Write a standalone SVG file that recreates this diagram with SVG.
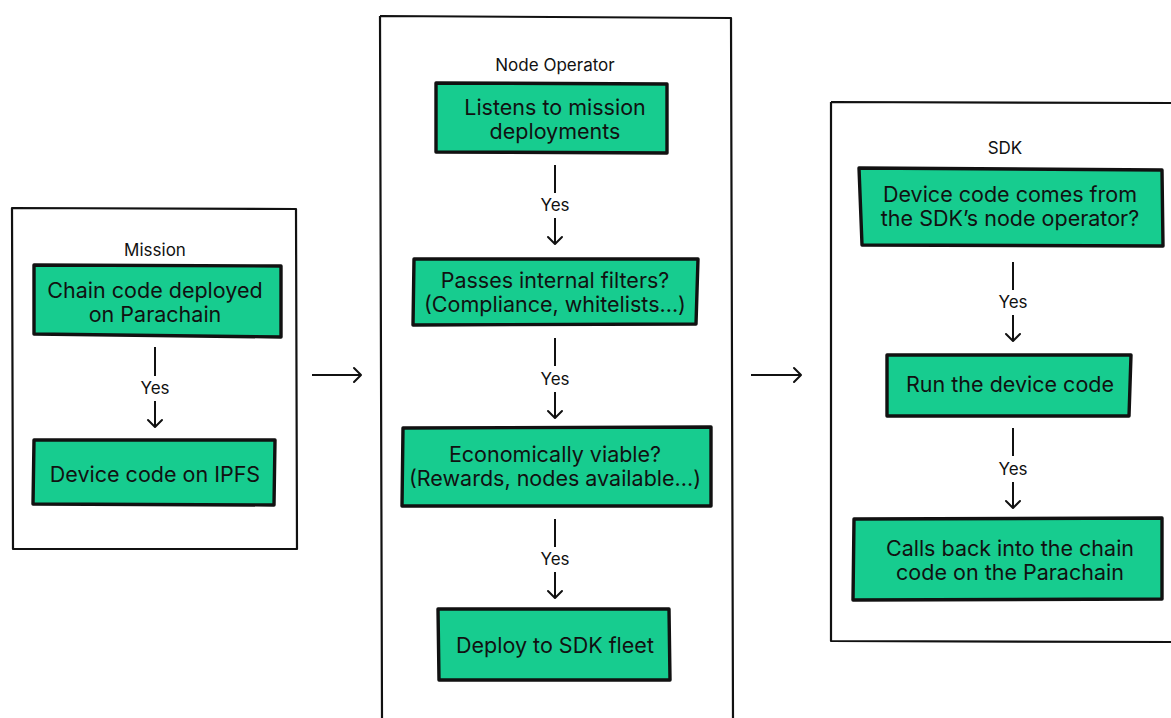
<svg xmlns="http://www.w3.org/2000/svg" width="1171" height="718" viewBox="0 0 1171 718">
<style>
.box{fill:#ffffff;stroke:#111;stroke-width:2.2;stroke-linejoin:round}
.node{fill:#17cc8f;stroke:#111;stroke-width:3.4;stroke-linejoin:round}
.t{font-family:Inter,"Liberation Sans",sans-serif;font-size:21.5px;fill:#111;text-anchor:middle}
.title{font-family:Inter,"Liberation Sans",sans-serif;font-size:17px;fill:#111;text-anchor:middle}
.yes{font-family:Inter,"Liberation Sans",sans-serif;font-size:17px;fill:#111;text-anchor:middle}
.ln{stroke:#111;stroke-width:2;fill:none}
.ah{stroke:#111;stroke-width:2;fill:none;stroke-linecap:round;stroke-linejoin:round}
</style>
<rect width="1171" height="718" fill="#ffffff"/>

<g id="mission">
  <path class="box" d="M12,208 L296,209 L297,549 L13,549 Z"/>
  <text class="title" x="155" y="256">Mission</text>
</g>
<g id="node-operator">
  <path class="box" d="M380,16 L731,18 L733,718 M382,718 L380,16"/>
  <text class="title" x="555" y="71">Node Operator</text>
</g>
<g id="sdk">
  <path class="box" d="M831,102 L1171,103 M1171,642 L831,641 L831,102"/>
  <text class="title" x="1005" y="154">SDK</text>
</g>

<g id="n1">
  <path class="node" d="M34,265 L281,266 L281,337 L34,334 Z"/>
  <text class="t" x="155" y="298">Chain code deployed</text>
  <text class="t" x="155" y="322">on Parachain</text>
</g>
<g id="n2">
  <path class="node" d="M34,440 L275,440 L274,505 L33,504 Z"/>
  <text class="t" x="155" y="482">Device code on IPFS</text>
</g>
<g id="n3">
  <path class="node" d="M436,83 L667,84 L667,153 L436,152 Z"/>
  <text class="t" x="555" y="115">Listens to mission</text>
  <text class="t" x="555" y="139">deployments</text>
</g>
<g id="n4">
  <path class="node" d="M414,259 L698,259 L696,324 L413,325 Z"/>
  <text class="t" x="555" y="288">Passes internal filters?</text>
  <text class="t" x="555" y="312">(Compliance, whitelists...)</text>
</g>
<g id="n5">
  <path class="node" d="M403,428 L711,427 L711,506 L402,506 Z"/>
  <text class="t" x="555" y="462">Economically viable?</text>
  <text class="t" x="555" y="486">(Rewards, nodes available...)</text>
</g>
<g id="n6">
  <path class="node" d="M438,609 L669,609 L670,680 L439,680 Z"/>
  <text class="t" x="555" y="653">Deploy to SDK fleet</text>
</g>
<g id="n7">
  <path class="node" d="M859,168 L1162,170 L1163,246 L862,245 Z"/>
  <text class="t" x="1010" y="202">Device code comes from</text>
  <text class="t" x="1010" y="226">the SDK’s node operator?</text>
</g>
<g id="n8">
  <path class="node" d="M887,355 L1131,355 L1129,416 L887,416 Z"/>
  <text class="t" x="1010" y="392">Run the device code</text>
</g>
<g id="n9">
  <path class="node" d="M854,519 L1162,518 L1162,599 L853,600 Z"/>
  <text class="t" x="1010" y="556">Calls back into the chain</text>
  <text class="t" x="1010" y="580">code on the Parachain</text>
</g>

<g id="connectors">
  <line class="ln" x1="155" y1="347" x2="155" y2="376"/>
  <text class="yes" x="155" y="394">Yes</text>
  <line class="ln" x1="155" y1="401" x2="155" y2="427"/>
  <path class="ah" d="M148,420 L155,427 L162,420"/>

  <line class="ln" x1="555" y1="165" x2="555" y2="193"/>
  <text class="yes" x="555" y="211">Yes</text>
  <line class="ln" x1="555" y1="218" x2="555" y2="244"/>
  <path class="ah" d="M548,237 L555,244 L562,237"/>

  <line class="ln" x1="555" y1="338" x2="555" y2="366"/>
  <text class="yes" x="555" y="385">Yes</text>
  <line class="ln" x1="555" y1="392" x2="555" y2="418"/>
  <path class="ah" d="M548,411 L555,418 L562,411"/>

  <line class="ln" x1="555" y1="519" x2="555" y2="547"/>
  <text class="yes" x="555" y="565">Yes</text>
  <line class="ln" x1="555" y1="572" x2="555" y2="598"/>
  <path class="ah" d="M548,591 L555,598 L562,591"/>

  <line class="ln" x1="1013" y1="262" x2="1013" y2="290"/>
  <text class="yes" x="1013" y="308">Yes</text>
  <line class="ln" x1="1013" y1="315" x2="1013" y2="341"/>
  <path class="ah" d="M1006,334 L1013,341 L1020,334"/>

  <line class="ln" x1="1013" y1="428" x2="1013" y2="456"/>
  <text class="yes" x="1013" y="475">Yes</text>
  <line class="ln" x1="1013" y1="482" x2="1013" y2="508"/>
  <path class="ah" d="M1006,501 L1013,508 L1020,501"/>

  <line class="ln" x1="312" y1="375" x2="361" y2="375"/>
  <path class="ah" d="M354,368 L361,375 L354,382"/>
  <line class="ln" x1="751" y1="375" x2="801" y2="375"/>
  <path class="ah" d="M794,368 L801,375 L794,382"/>
</g>
</svg>
